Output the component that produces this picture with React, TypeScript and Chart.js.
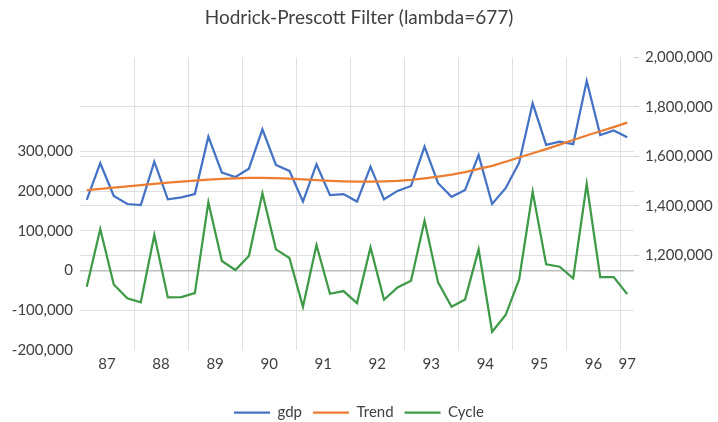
import { useEffect, useRef } from 'react';
import { Chart, registerables } from 'chart.js';

Chart.register(...registerables);

const quarters = [
  '1987Q1', '1987Q2', '1987Q3', '1987Q4',
  '1988Q1', '1988Q2', '1988Q3', '1988Q4',
  '1989Q1', '1989Q2', '1989Q3', '1989Q4',
  '1990Q1', '1990Q2', '1990Q3', '1990Q4',
  '1991Q1', '1991Q2', '1991Q3', '1991Q4',
  '1992Q1', '1992Q2', '1992Q3', '1992Q4',
  '1993Q1', '1993Q2', '1993Q3', '1993Q4',
  '1994Q1', '1994Q2', '1994Q3', '1994Q4',
  '1995Q1', '1995Q2', '1995Q3', '1995Q4',
  '1996Q1', '1996Q2', '1996Q3', '1996Q4',
  '1997Q1',
];

const years = ['87', '88', '89', '90', '91', '92', '93', '94', '95', '96', '97'];

const gdp = [
  1424000, 1572000, 1440000, 1407000, 1403000, 1578000, 1426000, 1434000, 1447000, 1679000,
  1534000, 1516000, 1550000, 1709000, 1565000, 1541000, 1417000, 1568000, 1443000, 1447000,
  1417000, 1558000, 1426000, 1460000, 1480000, 1639000, 1491000, 1436000, 1464000, 1605000,
  1407000, 1471000, 1574000, 1814000, 1646000, 1659000, 1649000, 1904000, 1686000, 1704000,
  1677000,
];

const trend = [
  1463000, 1468000, 1473000, 1478000, 1483000, 1488000, 1493000, 1498000, 1502000, 1506000,
  1509000, 1511000, 1513000, 1513000, 1512000, 1510000, 1507000, 1504000, 1501000, 1499000,
  1498000, 1498000, 1499000, 1501000, 1505000, 1511000, 1518000, 1526000, 1536000, 1549000,
  1561000, 1578000, 1595000, 1612000, 1629000, 1647000, 1666000, 1684000, 1701000, 1718000,
  1736000,
];

const cycle = [
  -41000, 104500, -35000, -70000, -80000, 89400, -67500, -66800, -56700, 171800,
  24000, 1300, 36500, 194500, 53400, 31500, -91000, 64200, -58400, -51600,
  -82000, 58400, -73500, -42400, -25600, 125400, -29800, -91000, -72600, 53400,
  -154000, -112000, -22200, 198500, 15600, 9600, -19700, 218000, -16400, -16400,
  -59200,
];

const leftTicks = [-200000, -100000, 0, 100000, 200000, 300000];
const rightTicks = [1200000, 1400000, 1600000, 1800000, 2000000];

const BLUE = '#4472C4';
const ORANGE = '#ED7D31';
const GREEN = '#3F9A48';
const TEXT = '#404040';
const GRID = '#e0e0e0';
const FONT = 'Lato';

export default function App() {
  const ref = useRef<HTMLCanvasElement>(null);

  useEffect(() => {
    if (!ref.current) return;
    const n = quarters.length;
    const groupCenters: number[] = [];
    const boundaries: number[] = [];
    years.forEach((yy, k) => {
      const idx = quarters
        .map((q, i) => (q.slice(2, 4) === yy ? i : -1))
        .filter((i) => i >= 0);
      const first = idx[0];
      const last = idx[idx.length - 1];
      groupCenters.push((first + last) / 2);
      if (k > 0) boundaries.push(first - 0.5);
    });
    const pts = (arr: number[]) => arr.map((v, i) => ({ x: i, y: v }));
    const fmt = (v: number) => Number(v).toLocaleString('en-US');

    const chart = new Chart(ref.current, {
      type: 'line',
      data: {
        datasets: [
          {
            label: 'gdp',
            data: pts(gdp),
            yAxisID: 'yR',
            xAxisID: 'x',
            borderColor: BLUE,
            backgroundColor: BLUE,
            borderWidth: 2.25,
            pointRadius: 0,
            tension: 0,
            order: 2,
          },
          {
            label: 'Trend',
            data: pts(trend),
            yAxisID: 'yR',
            xAxisID: 'x',
            borderColor: ORANGE,
            backgroundColor: ORANGE,
            borderWidth: 2.25,
            pointRadius: 0,
            tension: 0,
            order: 1,
          },
          {
            label: 'Cycle',
            data: pts(cycle),
            yAxisID: 'yL',
            xAxisID: 'x',
            borderColor: GREEN,
            backgroundColor: GREEN,
            borderWidth: 2.25,
            pointRadius: 0,
            tension: 0,
            order: 3,
          },
        ],
      },
      options: {
        responsive: false,
        animation: false,
        devicePixelRatio: 1,
        layout: { padding: 0 },
        font: { family: FONT },
        plugins: {
          title: {
            display: true,
            text: 'Hodrick-Prescott Filter (lambda=677)',
            color: TEXT,
            font: { family: FONT, size: 19, weight: 'normal' },
            padding: { top: 6.6, bottom: 27.9 },
          },
          legend: {
            position: 'bottom',
            labels: {
              usePointStyle: true,
              pointStyle: 'line',
              pointStyleWidth: 36,
              boxWidth: 36,
              padding: 11,
              color: TEXT,
              font: { family: FONT, size: 15 },
              sort: (a: any, b: any) => a.datasetIndex - b.datasetIndex,
            },
          },
          tooltip: { enabled: false },
        },
        scales: {
          x: {
            type: 'linear',
            position: 'bottom',
            min: -0.5,
            max: n - 0.5,
            afterBuildTicks: (s: any) => {
              s.ticks = groupCenters.map((v) => ({ value: v }));
            },
            afterFit: (s: any) => {
              s.height = 44;
            },
            ticks: {
              autoSkip: false,
              maxRotation: 0,
              padding: 5,
              color: TEXT,
              font: { family: FONT, size: 15 },
              callback: (_v: any, i: number) => years[i],
            },
            grid: { display: false, drawTicks: false },
            border: { display: false },
          },
          xg: {
            type: 'linear',
            position: 'bottom',
            min: -0.5,
            max: n - 0.5,
            afterBuildTicks: (s: any) => {
              s.ticks = boundaries.map((v) => ({ value: v }));
            },
            afterFit: (s: any) => {
              s.height = 0;
            },
            ticks: { display: false },
            grid: { color: GRID, lineWidth: 1, drawTicks: false },
            border: { display: false },
          },
          yL: {
            type: 'linear',
            position: 'left',
            min: -200000,
            max: 537000,
            afterBuildTicks: (s: any) => {
              s.ticks = leftTicks.map((v) => ({ value: v }));
            },
            afterFit: (s: any) => {
              s.width = 80;
            },
            ticks: {
              padding: 7,
              color: TEXT,
              font: { family: FONT, size: 15 },
              callback: (v: any) => fmt(v),
            },
            grid: {
              drawTicks: false,
              color: (ctx: any) =>
                ctx.tick.value === 0
                  ? '#bfbfbf'
                  : ctx.tick.value === -200000
                  ? 'rgba(0,0,0,0)'
                  : GRID,
              lineWidth: (ctx: any) => (ctx.tick.value === 0 ? 1.5 : 1),
            },
            border: { display: false },
          },
          yR: {
            type: 'linear',
            position: 'right',
            min: 817000,
            max: 2000000,
            afterBuildTicks: (s: any) => {
              s.ticks = rightTicks.map((v) => ({ value: v }));
            },
            afterFit: (s: any) => {
              s.width = 84;
            },
            ticks: {
              padding: 6,
              color: TEXT,
              font: { family: FONT, size: 15 },
              callback: (v: any) => fmt(v),
            },
            grid: {
              color: (ctx: any) => (ctx.tick.value === 2000000 ? 'rgba(0,0,0,0)' : GRID),
              tickColor: '#cfcfcf',
              tickLength: 5,
              lineWidth: 1,
            },
            border: { display: false },
          },
        },
      },
    } as any);

    return () => chart.destroy();
  }, []);

  return (
    <div style={{ position: 'fixed', left: 0, top: 0, width: 718, height: 430, background: '#fff' }}>
      <canvas ref={ref} width={718} height={430} style={{ display: 'block' }} />
    </div>
  );
}
